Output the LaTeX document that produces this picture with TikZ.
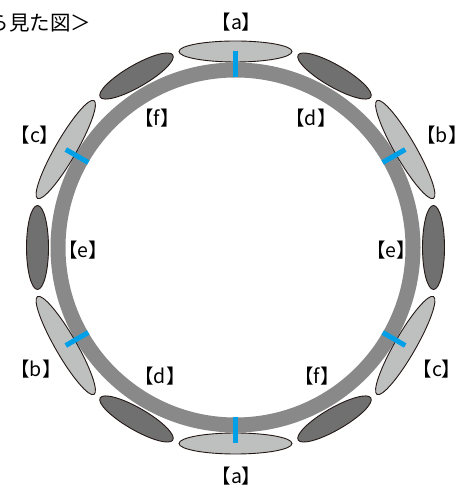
\documentclass[tikz,border=0pt]{standalone}
\usepackage{fontspec}
\setmainfont{Noto Sans CJK JP}
\usetikzlibrary{shapes.geometric}
\definecolor{ringgray}{RGB}{137,137,137}
\definecolor{lightfill}{RGB}{190,192,191}
\definecolor{darkfill}{RGB}{112,112,112}
\definecolor{edgecol}{RGB}{35,24,21}
\definecolor{tickblue}{RGB}{0,160,233}
\tikzset{
  ring/.style={draw=ringgray, line width=15pt},
  lightell/.style={ellipse, draw=edgecol, fill=lightfill, line width=0.9pt, minimum width=113pt, minimum height=21pt, inner sep=0pt},
  darkell/.style={ellipse, draw=edgecol, fill=darkfill, line width=0.9pt, minimum width=84pt, minimum height=22pt, inner sep=0pt},
  tickmark/.style={draw=tickblue, line width=5pt},
  lab/.style={font=\fontsize{19.5}{22}\selectfont, inner sep=0pt},
}
\begin{document}
\begin{tikzpicture}[x=1pt,y=1pt]
\clip (0,0) rectangle (462,487);
\fill[white] (0,0) rectangle (462,487);
\coordinate (C) at (235.5,239.5);
\draw[ring] (C) circle (177.5);
% light ellipses (a, b, c)
\foreach \a/\n in {90/la1,270/la2,30/lb1,210/lb2,150/lc1,-30/lc2}{
  \node[lightell, rotate=\a+90] (\n) at ([shift={(\a:196)}]C) {};
}
% dark ellipses (d, e, f)
\foreach \a/\n in {0/de1,180/de2,60/dd1,240/dd2,120/df1,-60/df2}{
  \node[darkell, rotate=\a+90] (\n) at ([shift={(\a:198)}]C) {};
}
% blue ticks
\foreach \a in {90,270,30,210,150,-30}{
  \draw[tickmark] ([shift={(\a:170)}]C) -- ([shift={(\a:196)}]C);
}
% labels
\node[lab] (ta1) at (236.5,487-22.5) {【a】};
\node[lab] (ta2) at (236.5,487-476) {【a】};
\node[lab] (tb1) at (442,487-135) {【b】};
\node[lab] (tb2) at (36,487-369) {【b】};
\node[lab] (tc1) at (35,487-135) {【c】};
\node[lab] (tc2) at (437,487-369) {【c】};
\node[lab] (td1) at (311,487-118) {【d】};
\node[lab] (td2) at (160,487-376) {【d】};
\node[lab] (te1) at (83,487-250) {【e】};
\node[lab] (te2) at (391,487-250) {【e】};
\node[lab] (tf1) at (157,487-118) {【f】};
\node[lab] (tf2) at (317,487-376) {【f】};
\node[lab, font=\fontsize{20.5}{24}\selectfont, anchor=base west] (title) at (-32,487-31) {から見た図＞};
\end{tikzpicture}
\end{document}
